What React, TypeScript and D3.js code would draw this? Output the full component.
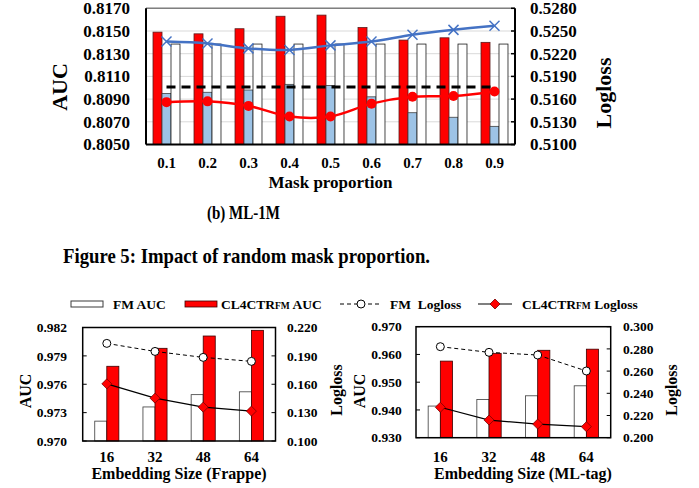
import React from 'react';
import * as d3 from 'd3';

// ---------- Top chart (b) ML-1M : impact of mask proportion ----------
const maskProportions = ['0.1', '0.2', '0.3', '0.4', '0.5', '0.6', '0.7', '0.8', '0.9'];
const cl4ctrAUC = [0.8149, 0.81475, 0.8152, 0.8163, 0.8164, 0.8153, 0.8142, 0.8144, 0.8140];
const variantAUC = [0.8095, 0.8096, 0.8098, 0.8103, 0.8102, 0.8092, 0.8078, 0.8074, 0.8066];
const fmAUCTop = [0.81385, 0.81385, 0.81385, 0.81385, 0.81385, 0.81385, 0.81385, 0.81385, 0.81385];
const variantLogloss = [0.5236, 0.52335, 0.5227, 0.5225, 0.5231, 0.5236, 0.5245, 0.52515, 0.5257];
const cl4ctrLogloss = [0.5156, 0.5157, 0.5151, 0.5137, 0.5137, 0.5154, 0.5163, 0.5164, 0.5170];
const fmLoglossTop = [0.5176, 0.5176, 0.5176, 0.5176, 0.5176, 0.5176, 0.5176, 0.5176, 0.5176];
const topAUCTicks = [0.805, 0.807, 0.809, 0.811, 0.813, 0.815, 0.817];
const topLoglossTicks = [0.51, 0.513, 0.516, 0.519, 0.522, 0.525, 0.528];

// ---------- Bottom charts : embedding size ----------
const embSizes = ['16', '32', '48', '64'];
const frappeFmAUC = [0.9721, 0.9736, 0.9749, 0.9752];
const frappeClAUC = [0.9779, 0.9798, 0.9811, 0.9817];
const frappeFmLogloss = [0.2032, 0.1947, 0.1884, 0.1842];
const frappeClLogloss = [0.1604, 0.1453, 0.1358, 0.1316];
const frappeAUCTicks = [0.97, 0.973, 0.976, 0.979, 0.982];
const frappeLoglossTicks = [0.1, 0.13, 0.16, 0.19, 0.22];

const mltagFmAUC = [0.9414, 0.9438, 0.9451, 0.9487];
const mltagClAUC = [0.9576, 0.9604, 0.9615, 0.9619];
const mltagFmLogloss = [0.282, 0.2769, 0.2745, 0.2601];
const mltagClLogloss = [0.2274, 0.2159, 0.2123, 0.2099];
const mltagAUCTicks = [0.93, 0.94, 0.95, 0.96, 0.97];
const mltagLoglossTicks = [0.2, 0.22, 0.24, 0.26, 0.28, 0.3];

const FONT = '"Liberation Serif", "Times New Roman", serif';

function TopChart() {
  const L = 146, R = 515, T = 8.3, B = 144.5;
  const x = d3.scaleBand().domain(maskProportions).range([L, R]);
  const sub = d3.scaleBand().domain(['cl', 'var', 'fm']).range([0, x.bandwidth()]).paddingInner(0).paddingOuter(0.78);
  const yA = d3.scaleLinear().domain([0.805, 0.817]).range([B, T]);
  const yL = d3.scaleLinear().domain([0.51, 0.528]).range([B, T]);
  const cx = (d: string) => (x(d) as number) + x.bandwidth() / 2;
  const line = d3.line<number>().x((_, i) => cx(maskProportions[i])).y((v) => yL(v)).curve(d3.curveCatmullRom.alpha(0.5));
  const flat = d3.line<number>().x((_, i) => cx(maskProportions[i])).y((v) => yL(v));
  const bars = [
    { key: 'cl', vals: cl4ctrAUC, fill: '#FF0000', stroke: '#5a1a1a' },
    { key: 'var', vals: variantAUC, fill: '#9DC3E6', stroke: '#404040' },
    { key: 'fm', vals: fmAUCTop, fill: '#FFFFFF', stroke: '#1a1a1a' },
  ];
  return (
    <g fontFamily={FONT} fontWeight="bold">
      {topAUCTicks.slice(1).map((t) => (
        <line key={'g' + t} x1={L} x2={R} y1={yA(t)} y2={yA(t)} stroke="#d9d9d9" strokeWidth={1} />
      ))}
      {bars.map((b) =>
        b.vals.map((v, i) => (
          <rect key={b.key + i} x={(x(maskProportions[i]) as number) + (sub(b.key) as number)} y={yA(v)}
            width={sub.bandwidth()} height={B - yA(v)} fill={b.fill} stroke={b.stroke} strokeWidth={0.8} />
        ))
      )}
      <path d={flat(fmLoglossTop) || ''} fill="none" stroke="#000" strokeWidth={3} strokeDasharray="9,6" />
      <path d={line(cl4ctrLogloss) || ''} fill="none" stroke="#FF0000" strokeWidth={2.5} />
      {cl4ctrLogloss.map((v, i) => (
        <circle key={'rc' + i} cx={cx(maskProportions[i])} cy={yL(v)} r={5} fill="#FF0000" />
      ))}
      <path d={line(variantLogloss) || ''} fill="none" stroke="#4472C4" strokeWidth={2.5} />
      {variantLogloss.map((v, i) => {
        const px = cx(maskProportions[i]), py = yL(v), s = 5;
        return (
          <g key={'bx' + i} stroke="#4472C4" strokeWidth={1.5}>
            <line x1={px - s} x2={px + s} y1={py - s} y2={py + s} />
            <line x1={px - s} x2={px + s} y1={py + s} y2={py - s} />
          </g>
        );
      })}
      <line x1={L} x2={R} y1={T} y2={T} stroke="#7f7f7f" strokeWidth={1.5} />
      <line x1={L} x2={L} y1={T} y2={B} stroke="#000" strokeWidth={2} />
      <line x1={R} x2={R} y1={T} y2={B} stroke="#000" strokeWidth={2} />
      <line x1={L} x2={R} y1={B} y2={B} stroke="#000" strokeWidth={2} />
      {topLoglossTicks.map((t) => (
        <line key={'rt' + t} x1={R - 4} x2={R} y1={yL(t)} y2={yL(t)} stroke="#000" strokeWidth={1.5} />
      ))}
      {topAUCTicks.map((t) => (
        <text key={'la' + t} x={130} y={yA(t)} dy="0.35em" textAnchor="end" fontSize={17}>{t.toFixed(4)}</text>
      ))}
      {topLoglossTicks.map((t) => (
        <text key={'ll' + t} x={530} y={yL(t)} dy="0.35em" textAnchor="start" fontSize={17}>{t.toFixed(4)}</text>
      ))}
      {maskProportions.map((m) => (
        <text key={'xt' + m} x={cx(m)} y={168} textAnchor="middle" fontSize={15}>{m}</text>
      ))}
      <text x={(L + R) / 2} y={188} textAnchor="middle" fontSize={17}>Mask proportion</text>
      <text transform="translate(67,87) rotate(-90)" textAnchor="middle" fontSize={22}>AUC</text>
      <text transform="translate(611,93) rotate(-90)" textAnchor="middle" fontSize={22}>Logloss</text>
    </g>
  );
}

type BottomProps = {
  L: number; R: number; T: number; B: number;
  fmAUC: number[]; clAUC: number[]; fmLL: number[]; clLL: number[];
  aucTicks: number[]; llTicks: number[];
  leftLabelX: number; rightLabelX: number; title: string; titleX: number;
  aucTitleX: number; llTitleX: number;
};

function BottomChart(p: BottomProps) {
  const x = d3.scaleBand().domain(embSizes).range([p.L, p.R]);
  const sub = d3.scaleBand().domain(['fm', 'cl']).range([0, x.bandwidth()]).paddingInner(0).paddingOuter(1.0);
  const yA = d3.scaleLinear().domain([p.aucTicks[0], p.aucTicks[p.aucTicks.length - 1]]).range([p.B, p.T]);
  const yL = d3.scaleLinear().domain([p.llTicks[0], p.llTicks[p.llTicks.length - 1]]).range([p.B, p.T]);
  const cx = (d: string) => (x(d) as number) + x.bandwidth() / 2;
  const line = d3.line<number>().x((_, i) => cx(embSizes[i])).y((v) => yL(v));
  return (
    <g fontFamily={FONT} fontWeight="bold">
      {p.fmAUC.map((v, i) => (
        <rect key={'f' + i} x={(x(embSizes[i]) as number) + (sub('fm') as number)} y={yA(v)} width={sub.bandwidth()}
          height={p.B - yA(v)} fill="#fff" stroke="#3a3a3a" strokeWidth={0.8} />
      ))}
      {p.clAUC.map((v, i) => (
        <rect key={'c' + i} x={(x(embSizes[i]) as number) + (sub('cl') as number)} y={yA(v)} width={sub.bandwidth()}
          height={p.B - yA(v)} fill="#FF0000" stroke="#3a0000" strokeWidth={0.8} />
      ))}
      <path d={line(p.fmLL) || ''} fill="none" stroke="#000" strokeWidth={1} strokeDasharray="4,3" />
      {p.fmLL.map((v, i) => (
        <circle key={'oc' + i} cx={cx(embSizes[i])} cy={yL(v)} r={4} fill="#fff" stroke="#000" strokeWidth={1} />
      ))}
      <path d={line(p.clLL) || ''} fill="none" stroke="#000" strokeWidth={1.2} />
      {p.clLL.map((v, i) => {
        const px = cx(embSizes[i]), py = yL(v), s = 5;
        return <path key={'dm' + i} d={`M${px},${py - s}L${px + s},${py}L${px},${py + s}L${px - s},${py}Z`}
          fill="#FF0000" stroke="#7a0000" strokeWidth={0.8} />;
      })}
      <rect x={p.L} y={p.T} width={p.R - p.L} height={p.B - p.T} fill="none" stroke="#000" strokeWidth={1.5} />
      {p.aucTicks.map((t) => (
        <line key={'at' + t} x1={p.L} x2={p.L + 4} y1={yA(t)} y2={yA(t)} stroke="#000" strokeWidth={1} />
      ))}
      {p.llTicks.map((t) => (
        <line key={'lt' + t} x1={p.R - 4} x2={p.R} y1={yL(t)} y2={yL(t)} stroke="#000" strokeWidth={1} />
      ))}
      {p.aucTicks.map((t) => (
        <text key={'al' + t} x={p.leftLabelX} y={yA(t)} dy="0.35em" textAnchor="end" fontSize={13.5}>{t.toFixed(3)}</text>
      ))}
      {p.llTicks.map((t) => (
        <text key={'ll' + t} x={p.rightLabelX} y={yL(t)} dy="0.35em" textAnchor="start" fontSize={13.5}>{t.toFixed(3)}</text>
      ))}
      {embSizes.map((e) => (
        <text key={'xt' + e} x={cx(e)} y={461.5} textAnchor="middle" fontSize={15}>{e}</text>
      ))}
      <text x={p.titleX} y={478.5} textAnchor="middle" fontSize={16}>{p.title}</text>
      <text transform={`translate(${p.aucTitleX},391) rotate(-90)`} textAnchor="middle" fontSize={16}>AUC</text>
      <text transform={`translate(${p.llTitleX},390) rotate(-90)`} textAnchor="middle" fontSize={16}>Logloss</text>
    </g>
  );
}

function Legend() {
  const cy = 304;
  return (
    <g fontFamily={FONT} fontWeight="bold" fontSize={13.5}>
      <rect x={71} y={cy - 3} width={32} height={6} fill="#fff" stroke="#3a3a3a" strokeWidth={1} />
      <text x={113} y={cy} dy="0.35em">FM AUC</text>
      <rect x={185} y={cy - 3} width={32} height={6} fill="#FF0000" stroke="#3a0000" strokeWidth={0.8} />
      <text x={221} y={cy} dy="0.35em">CL4CTR<tspan fontSize={9.5}>FM</tspan> AUC</text>
      <line x1={340} x2={381} y1={cy} y2={cy} stroke="#000" strokeWidth={1} strokeDasharray="4,3" />
      <circle cx={361} cy={cy} r={4} fill="#fff" stroke="#000" strokeWidth={1} />
      <text x={390} y={cy} dy="0.35em" style={{ whiteSpace: 'pre' }}>FM  Logloss</text>
      <line x1={478} x2={512} y1={cy} y2={cy} stroke="#000" strokeWidth={1.2} />
      <path d={`M495,${cy - 5}L500,${cy}L495,${cy + 5}L490,${cy}Z`} fill="#FF0000" stroke="#7a0000" strokeWidth={0.8} />
      <text x={522} y={cy} dy="0.35em">CL4CTR<tspan fontSize={9.5}>FM</tspan> Logloss</text>
    </g>
  );
}

export default function App() {
  return (
    <svg width={699} height={488} viewBox="0 0 699 488"
      style={{ position: 'absolute', left: 0, top: 0, background: '#fff' }}>
      <rect x={0} y={0} width={699} height={488} fill="#fff" />
      <TopChart />
      <text x={243.5} y={219} textAnchor="middle" fontFamily={FONT} fontWeight="bold" fontSize={19}
        textLength={73} lengthAdjust="spacingAndGlyphs">(b) ML-1M</text>
      <text x={246.5} y={263} textAnchor="middle" fontFamily={FONT} fontWeight="bold" fontSize={22}
        textLength={367} lengthAdjust="spacingAndGlyphs">Figure 5: Impact of random mask proportion.</text>
      <Legend />
      <BottomChart L={82.7} R={275.5} T={327.5} B={441} fmAUC={frappeFmAUC} clAUC={frappeClAUC}
        fmLL={frappeFmLogloss} clLL={frappeClLogloss} aucTicks={frappeAUCTicks} llTicks={frappeLoglossTicks}
        leftLabelX={67} rightLabelX={287} title="Embedding Size (Frappe)" titleX={179} aucTitleX={31} llTitleX={342} />
      <BottomChart L={416} R={610.7} T={326.7} B={437.7} fmAUC={mltagFmAUC} clAUC={mltagClAUC}
        fmLL={mltagFmLogloss} clLL={mltagClLogloss} aucTicks={mltagAUCTicks} llTicks={mltagLoglossTicks}
        leftLabelX={401.7} rightLabelX={623} title="Embedding Size (ML-tag)" titleX={523} aucTitleX={365} llTitleX={677} />
    </svg>
  );
}
